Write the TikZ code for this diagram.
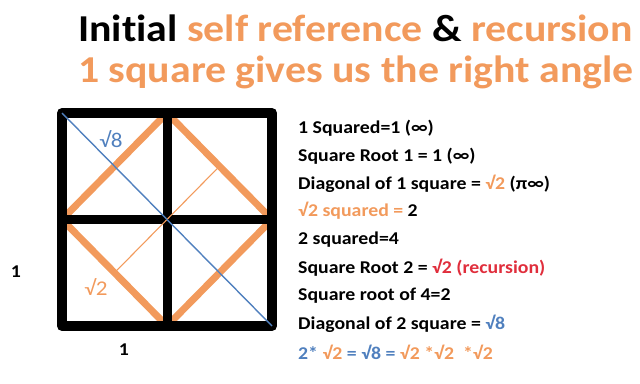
\documentclass[tikz,border=0pt]{standalone}
\usepackage{fontspec}
\setmainfont{Carlito}[FakeStretch=1.1,Ligatures=NoCommon]
\usetikzlibrary{calc,positioning}
\definecolor{orng}{HTML}{F29A5C}
\definecolor{steel}{HTML}{5080BE}
\definecolor{rootred}{HTML}{E02E3C}
\tikzset{
    frame/.style={
        line width=10pt,
        line join=round,
        color=black
    },
    cross/.style={
        line width=9pt,
        color=black
    },
    diamond/.style={
        line width=7pt,
        color=orng
    },
    halfline/.style={
        line width=1.1pt,
        color=orng
    },
    bigdiag/.style={
        line width=1.4pt,
        color=steel
    },
    title/.style={
        font=\fontsize{38}{40}\selectfont\bfseries,
        anchor=west,
        inner sep=0pt
    },
    rule/.style={
        font=\fontsize{18}{20}\selectfont\bfseries,
        anchor=west,
        inner sep=0pt
    },
    sidelabel/.style={
        font=\fontsize{18}{20}\selectfont\bfseries,
        inner sep=0pt
    }
}

\begin{document}
\begin{tikzpicture}[x=1pt,y=-1pt]

    \useasboundingbox (0,0) rectangle (640,383);

    % Corners
    \coordinate (tl) at (62,113);
    \coordinate (tr) at (272,113);
    \coordinate (bl) at (62,326);
    \coordinate (br) at (272,326);

    % Midpoints
    \coordinate (top) at ($(tl)!0.5!(tr)$);
    \coordinate (bot) at ($(bl)!0.5!(br)$);
    \coordinate (lft) at ($(tl)!0.5!(bl)$);
    \coordinate (rgt) at ($(tr)!0.5!(br)$);

    % Diamond
    \draw[diamond] (lft) -- (top);
    \draw[diamond] (top) -- (rgt);
    \draw[diamond] (rgt) -- (bot);
    \draw[diamond] (bot) -- (lft);

    % Square
    \draw[cross] (top) -- (bot);
    \draw[cross] (lft) -- (rgt);
    \draw[frame] (tl) rectangle (br);

    % Diagonals
    \draw[halfline]
        ($(lft)!0.5!(bot)$)
        -- ($(top)!0.5!(rgt)$);

    \draw[bigdiag]
        (tl) -- (br);

    % Labels
    \node[steel,font=\fontsize{21}{24}\selectfont]
        (rooteight) at (111,139) {√8};

    \node[orng,font=\fontsize{21}{24}\selectfont]
        (roottwo) at (96,287) {√2};

    \node[sidelabel] (sideleft) at (16,272) {1};
    \node[sidelabel] (sidebottom) at (124,350) {1};

    % Title
    \node[title] (line1) at (78,28)
        {Initial \textcolor{orng}{self reference} \& \textcolor{orng}{recursion}};

    \node[title,orng] (line2) at (78,72)
        {1 square gives us the right angle};

    % Rules
    \node[rule] (r1) at (298,128) {1 Squared=1 (∞)};
    \node[rule] (r2) at (298,156) {Square Root 1 = 1 (∞)};
    \node[rule] (r3) at (298,184)
        {Diagonal of 1 square = \textcolor{orng}{√2} (π∞)};
    \node[rule,orng] (r4) at (298,211)
        {√2 squared = \textcolor{black}{2}};
    \node[rule] (r5) at (298,240) {2 squared=4};
    \node[rule] (r6) at (298,268)
        {Square Root 2 = \textcolor{rootred}{√2 (recursion)}};
    \node[rule] (r7) at (298,296) {Square root of 4=2};
    \node[rule] (r8) at (298,324)
        {Diagonal of 2 square = \textcolor{steel}{√8}};
    \node[rule,steel] (r9) at (298,352)
        {2* \textcolor{orng}{√2} = √8 = \textcolor{orng}{√2 *√2 \ *√2}};

\end{tikzpicture}
\end{document}
